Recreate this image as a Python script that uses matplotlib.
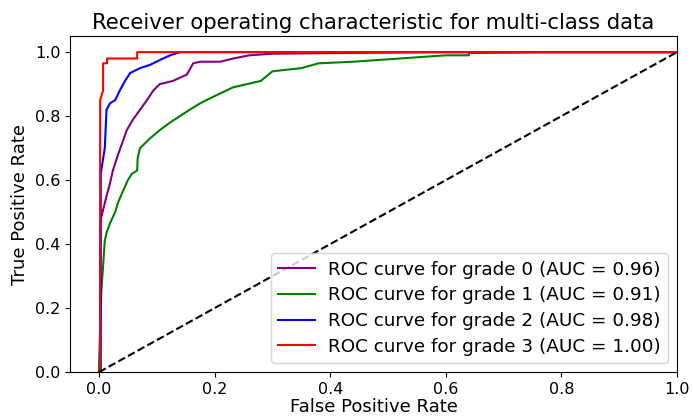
import matplotlib
matplotlib.use("Agg")
import matplotlib.pyplot as plt

# grade 0 (purple)
fpr0 = [0.0, 0.002, 0.002, 0.013, 0.019, 0.024, 0.033, 0.042, 0.048, 0.059, 0.071, 0.083,
        0.094, 0.105, 0.128, 0.152, 0.163, 0.175, 0.21, 0.232, 0.26, 0.30, 0.57, 1.0]
tpr0 = [0.0, 0.0, 0.47, 0.55, 0.59, 0.63, 0.68, 0.725, 0.756, 0.79, 0.82, 0.85,
        0.88, 0.90, 0.91, 0.93, 0.965, 0.97, 0.97, 0.98, 0.99, 0.995, 1.0, 1.0]

# grade 1 (green)
fpr1 = [0.0, 0.0, 0.004, 0.01, 0.013, 0.019, 0.028, 0.033, 0.04, 0.045, 0.05, 0.057, 0.066,
        0.067, 0.071, 0.088, 0.105, 0.123, 0.14, 0.157, 0.175, 0.197, 0.232, 0.28, 0.30,
        0.35, 0.38, 0.44, 0.52, 0.60, 0.64, 0.64, 0.77, 1.0]
tpr1 = [0.0, 0.02, 0.25, 0.41, 0.435, 0.465, 0.50, 0.53, 0.56, 0.58, 0.60, 0.62, 0.63,
        0.67, 0.70, 0.73, 0.756, 0.78, 0.80, 0.82, 0.84, 0.86, 0.89, 0.91, 0.94,
        0.95, 0.965, 0.97, 0.98, 0.99, 0.99, 0.997, 1.0, 1.0]

# grade 2 (blue)
fpr2 = [0.0, 0.003, 0.003, 0.01, 0.013, 0.019, 0.028, 0.036, 0.045, 0.054, 0.071, 0.088,
        0.105, 0.123, 0.14, 1.0]
tpr2 = [0.0, 0.0, 0.62, 0.70, 0.82, 0.84, 0.85, 0.88, 0.91, 0.935, 0.95, 0.96,
        0.975, 0.99, 1.0, 1.0]

# grade 3 (red)
fpr3 = [0.0, 0.002, 0.002, 0.007, 0.007, 0.014, 0.014, 0.066, 0.066, 1.0]
tpr3 = [0.0, 0.0, 0.85, 0.88, 0.965, 0.965, 0.98, 0.98, 1.0, 1.0]

grades = ["0", "1", "2", "3"]
aucs = [0.96, 0.91, 0.98, 1.00]
colors = ["purple", "green", "blue", "red"]

fig = plt.figure(figsize=(6.94, 4.2), dpi=100)
ax = fig.add_axes([0.101, 0.114, 0.8745, 0.80])

series = [(fpr0, tpr0), (fpr1, tpr1), (fpr2, tpr2), (fpr3, tpr3)]
for (f, t), g, a, c in zip(series, grades, aucs, colors):
    ax.plot(f, t, color=c, lw=1.5,
            label="ROC curve for grade {0} (AUC = {1:0.2f})".format(g, a))
ax.plot([0, 1], [0, 1], "k--", lw=1.5)

ax.set_xlim(-0.05, 1.0)
ax.set_ylim(0.0, 1.05)
ax.set_xlabel("False Positive Rate", fontsize=13, labelpad=1)
ax.set_ylabel("True Positive Rate", fontsize=13)
ax.set_title("Receiver operating characteristic for multi-class data", fontsize=15.3, pad=5)
ax.tick_params(labelsize=11.5)
ax.legend(loc="lower right", fontsize=13.2, handlelength=2.0, handletextpad=0.7,
          labelspacing=0.42, borderaxespad=0.5)

fig.savefig("out.png", dpi=100)
